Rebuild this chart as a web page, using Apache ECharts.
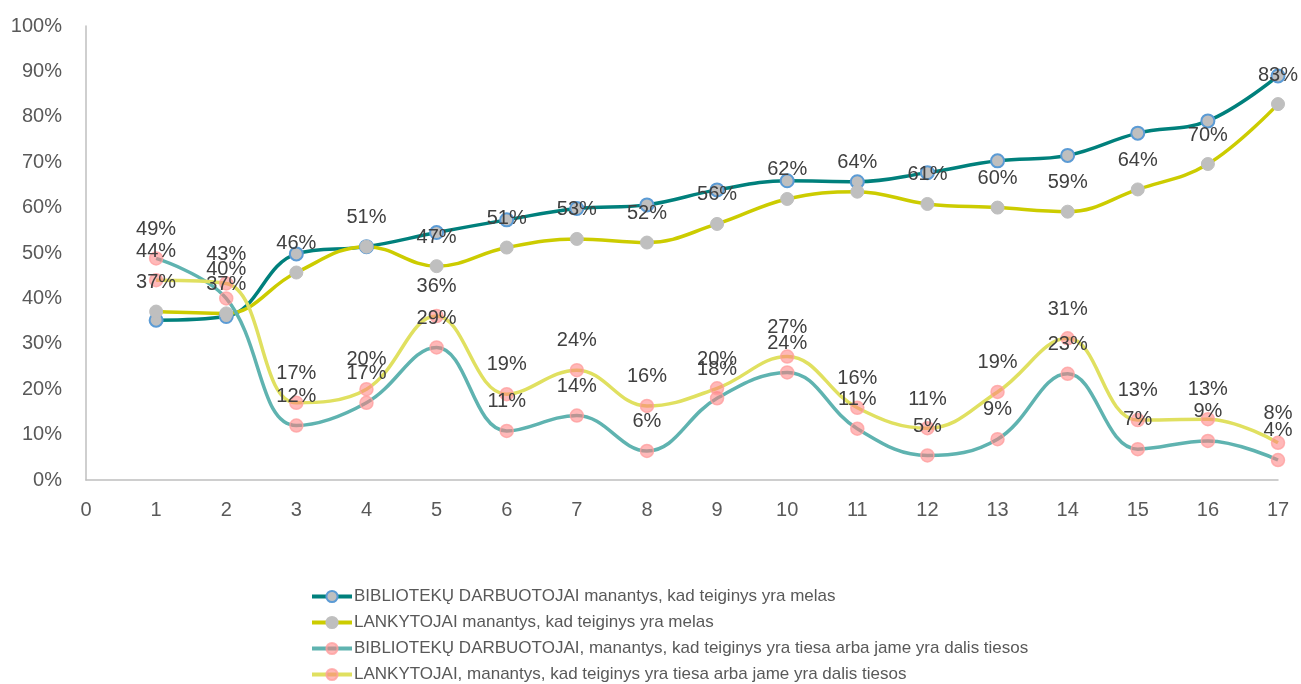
<!DOCTYPE html>
<html>
<head>
<meta charset="utf-8">
<script src="https://cdn.jsdelivr.net/npm/echarts@6/dist/echarts.min.js"></script>
<style>
  html, body { margin: 0; padding: 0; background: #fff; }
  #chart { width: 1301px; height: 684px; }
</style>
</head>
<body>
<div id="chart"></div>
<script>
// x positions (klausimo nr.)
const questions = [1, 2, 3, 4, 5, 6, 7, 8, 9, 10, 11, 12, 13, 14, 15, 16, 17];

const seriesNames = [
  'BIBLIOTEKŲ DARBUOTOJAI manantys, kad teiginys yra melas',
  'LANKYTOJAI manantys, kad teiginys yra melas',
  'BIBLIOTEKŲ DARBUOTOJAI, manantys, kad teiginys yra tiesa arba jame yra dalis tiesos',
  'LANKYTOJAI, manantys, kad teiginys yra tiesa arba jame yra dalis tiesos'
];

// values in %
const biblioMelas = [35.2, 36, 49.8, 51.4, 54.5, 57.3, 59.8, 60.6, 63.9, 65.9, 65.7, 67.7, 70.3, 71.5, 76.4, 79.1, 89.0];
const lankMelas   = [37.1, 36.7, 45.7, 51.4, 47.1, 51.2, 53.1, 52.3, 56.4, 61.9, 63.5, 60.8, 60.0, 59.1, 64.0, 69.6, 82.8];
const biblioTiesa = [48.8, 40.0, 12.0, 17.0, 29.2, 10.8, 14.2, 6.4, 18.0, 23.7, 11.3, 5.4, 9.0, 23.4, 6.8, 8.6, 4.4];
const lankTiesa   = [44.0, 43.3, 17.0, 20.0, 36.1, 18.9, 24.2, 16.3, 20.2, 27.2, 15.9, 11.4, 19.4, 31.2, 13.2, 13.4, 8.2];

const yTicks = { min: 0, max: 100, interval: 10 };
const xTicks = { min: 0, max: 17, interval: 1 };

const FONT = '"Liberation Sans", Arial, sans-serif';

function pairs(arr) {
  return arr.map((v, i) => [questions[i], v]);
}

const dataLabel = {
  show: true,
  position: 'top',
  distance: 12,
  color: '#404040',
  fontSize: 20,
  fontFamily: FONT,
  formatter: p => Math.round(p.value[1]) + '%'
};

const pinkMarker = {
  color: 'rgba(255, 125, 125, 0.55)',
  borderColor: 'rgba(255, 160, 160, 0.8)',
  borderWidth: 1.5
};

var myChart = echarts.init(document.getElementById('chart'));
var option = {
  animation: false,
  backgroundColor: '#fff',
  grid: {
    left: 86,
    right: 23,
    top: 26,
    bottom: 204
  },
  legend: {
    orient: 'vertical',
    left: 310,
    top: 588,
    height: 130,
    padding: 0,
    itemWidth: 40,
    itemHeight: 14,
    itemGap: 9,
    lineStyle: { width: 4 },
    textStyle: {
      color: '#595959', fontSize: 17, fontFamily: FONT,
      padding: [0, 0, 0, -3]
    },
    data: seriesNames
  },
  xAxis: {
    type: 'value',
    min: xTicks.min,
    max: xTicks.max,
    interval: xTicks.interval,
    splitLine: { show: false },
    axisLine: { show: true, lineStyle: { color: '#bfbfbf', width: 1.5 } },
    axisTick: { show: false },
    axisLabel: { color: '#595959', fontSize: 20, fontFamily: FONT, margin: 20 }
  },
  yAxis: {
    type: 'value',
    min: yTicks.min,
    max: yTicks.max,
    interval: yTicks.interval,
    splitLine: { show: false },
    axisLine: { show: true, lineStyle: { color: '#bfbfbf', width: 1.5 } },
    axisTick: { show: false },
    axisLabel: {
      color: '#595959', fontSize: 20, fontFamily: FONT, margin: 24,
      formatter: '{value}%'
    }
  },
  series: [
    {
      name: seriesNames[0],
      type: 'line',
      smooth: 0.4,
      data: pairs(biblioMelas),
      symbol: 'circle',
      symbolSize: 13,
      lineStyle: { color: '#00807c', width: 3.5 },
      itemStyle: { color: '#bfbfbf', borderColor: '#5b9bd5', borderWidth: 2 }
    },
    {
      name: seriesNames[1],
      type: 'line',
      smooth: 0.4,
      data: pairs(lankMelas),
      symbol: 'circle',
      symbolSize: 13,
      lineStyle: { color: '#cccc00', width: 3.5 },
      itemStyle: { color: '#bfbfbf', borderColor: '#bfbfbf', borderWidth: 1 },
      label: dataLabel
    },
    {
      name: seriesNames[2],
      type: 'line',
      smooth: 0.4,
      data: pairs(biblioTiesa),
      symbol: 'circle',
      symbolSize: 13,
      lineStyle: { color: '#5fb3b0', width: 3.5 },
      itemStyle: pinkMarker,
      label: dataLabel
    },
    {
      name: seriesNames[3],
      type: 'line',
      smooth: 0.4,
      data: pairs(lankTiesa),
      symbol: 'circle',
      symbolSize: 13,
      lineStyle: { color: '#e0e060', width: 3.5 },
      itemStyle: pinkMarker,
      label: dataLabel
    }
  ]
};
myChart.setOption(option);
window.addEventListener('resize', () => {
  myChart.resize()
})
</script>
</body>
</html>
